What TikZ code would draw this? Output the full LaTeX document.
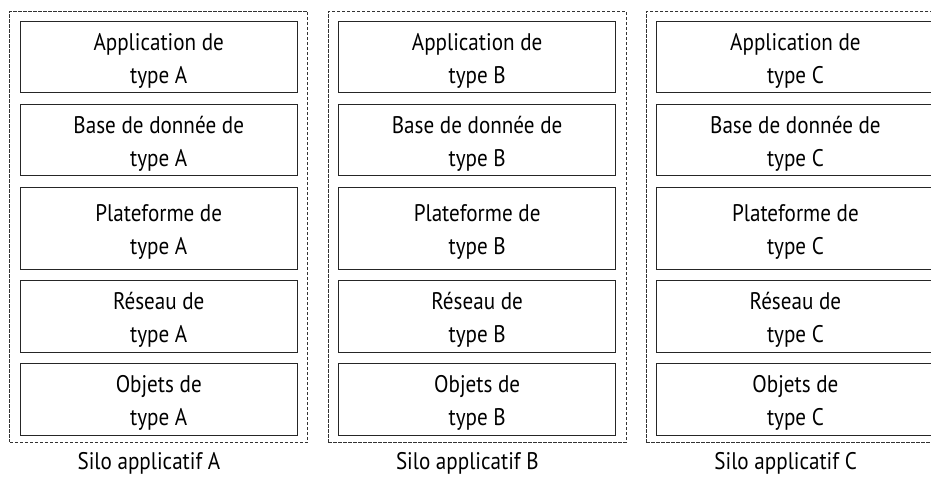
\documentclass[tikz,border=0pt]{standalone}
\usepackage{fontspec}
\setmainfont{PT Sans}[FakeStretch=0.88]
\usetikzlibrary{positioning}

\begin{document}
\begin{tikzpicture}[x=1pt, y=-1pt, node distance=10.4pt]
    \tikzset{silo/.style = {draw=black!80, line width=0.9pt, dash pattern=on 3.5pt off 1.5pt, minimum width=298pt, minimum height=431pt, inner sep=0pt, anchor=north west},
             layer/.style = {draw=black!85, line width=1pt, text=black, minimum width=277pt, minimum height=71.6pt, inner sep=0pt, align=center, text height=52pt, text depth=0pt, font=\fontsize{24}{33}\selectfont},
             tall/.style = {minimum height=82pt},
             caption/.style = {anchor=base, inner sep=0pt, font=\fontsize{24}{33}\selectfont}}

    \useasboundingbox (0,0) rectangle (931,480);

    \node[silo] (siloA) at (9.3,10.7) {};
    \node[silo] (siloB) at (327.7,10.7) {};
    \node[silo] (siloC) at (646,10.7) {};

    \node[layer, below=10pt of siloA.north] (appA) {Application de\\type A};
    \node[layer, below=of appA] (bddA) {Base de donnée de\\type A};
    \node[layer, tall, below=of bddA] (platA) {Plateforme de\\type A};
    \node[layer, below=of platA] (resA) {Réseau de\\type A};
    \node[layer, below=of resA] (objA) {Objets de\\type A};

    \node[layer, below=10pt of siloB.north] (appB) {Application de\\type B};
    \node[layer, below=of appB] (bddB) {Base de donnée de\\type B};
    \node[layer, tall, below=of bddB] (platB) {Plateforme de\\type B};
    \node[layer, below=of platB] (resB) {Réseau de\\type B};
    \node[layer, below=of resB] (objB) {Objets de\\type B};

    \node[layer, below=10pt of siloC.north] (appC) {Application de\\type C};
    \node[layer, below=of appC] (bddC) {Base de donnée de\\type C};
    \node[layer, tall, below=of bddC] (platC) {Plateforme de\\type C};
    \node[layer, below=of platC] (resC) {Réseau de\\type C};
    \node[layer, below=of resC] (objC) {Objets de\\type C};

    \node[caption] (capA) at ([xshift=-9.8pt, yshift=-27.3pt]siloA.south) {Silo applicatif A};
    \node[caption] (capB) at ([xshift=-9.8pt, yshift=-27.3pt]siloB.south) {Silo applicatif B};
    \node[caption] (capC) at ([xshift=-9.8pt, yshift=-27.3pt]siloC.south) {Silo applicatif C};
\end{tikzpicture}
\end{document}
